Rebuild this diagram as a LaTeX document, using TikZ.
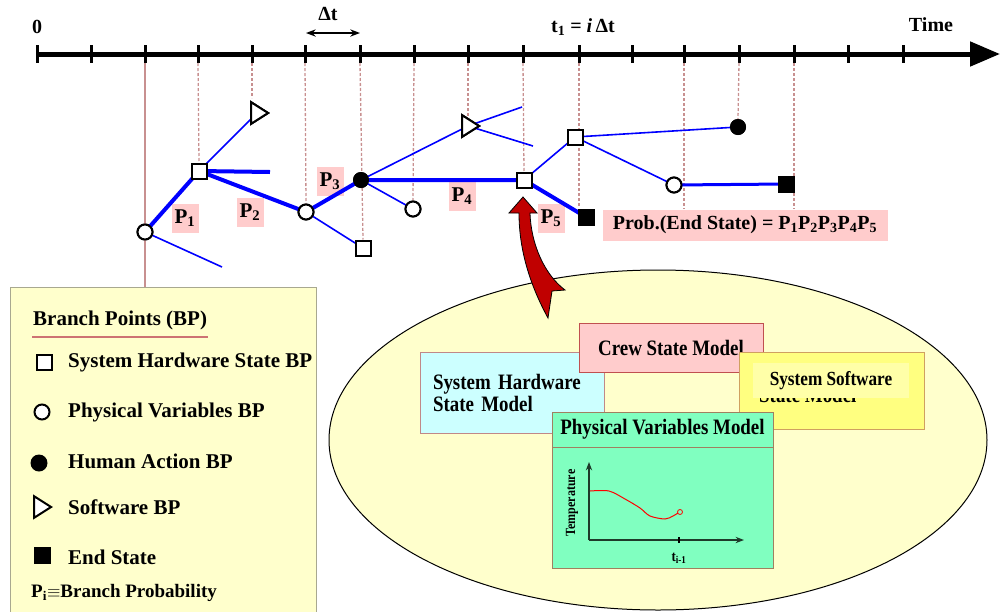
\documentclass[tikz,border=0pt]{standalone}
\usepackage{fontspec}
\setmainfont{Liberation Serif}
\newfontfamily\condserif{Liberation Serif}[FakeStretch=0.86]
\usetikzlibrary{arrows.meta,shapes.geometric}
\definecolor{poolfill}{HTML}{FFFFCC}
\definecolor{pinkfill}{HTML}{FFCCCC}
\definecolor{tickline}{HTML}{C89090}
\definecolor{bpblue}{HTML}{0000FF}
\definecolor{arrowred}{HTML}{C00000}
\definecolor{hwfill}{HTML}{CCFFFF}
\definecolor{hwline}{HTML}{C08888}
\definecolor{crewline}{HTML}{C05050}
\definecolor{swfill}{HTML}{FFFF80}
\definecolor{swlight}{HTML}{FFFFA8}
\definecolor{swline}{HTML}{D0A060}
\definecolor{pvfill}{HTML}{80FFC0}
\definecolor{pvline}{HTML}{A08060}
\definecolor{legline}{HTML}{A8A890}
\definecolor{axisgreen}{HTML}{1E3A2A}
\tikzset{
  txt/.style={font=\bfseries\fontsize{#1}{#1}\selectfont, inner sep=1pt},
  ctxt/.style={font=\condserif\bfseries\fontsize{#1}{#1}\selectfont, inner sep=1pt},
  hwbp/.style={draw, rectangle, fill=white, line width=2pt, minimum size=15pt, inner sep=0pt},
  pvbp/.style={draw, circle, fill=white, line width=2pt, minimum size=15pt, inner sep=0pt},
  habp/.style={circle, fill=black, minimum size=16pt, inner sep=0pt},
  swbp/.style={draw, isosceles triangle, isosceles triangle apex angle=65, fill=white, line width=2pt, minimum height=17pt, inner sep=0pt},
  endst/.style={rectangle, fill=black, minimum size=17pt, inner sep=0pt},
  mainbr/.style={draw=bpblue, line width=4pt},
  sidebr/.style={draw=bpblue, line width=1.6pt},
  tickdash/.style={draw=tickline, line width=1.3pt, dash pattern=on 3pt off 2pt},
  plab/.style={txt=21, fill=pinkfill, minimum width=27pt, minimum height=29pt},
  modbox/.style={draw, line width=1pt, inner sep=0pt}
}
\begin{document}
\begin{tikzpicture}[x=1pt,y=-1pt,>=Stealth]
\useasboundingbox (0,0) rectangle (1002,611);
\node (pool) [draw, ellipse, fill=poolfill, line width=1pt, minimum width=658pt, minimum height=340pt] at (658,440) {};
\node (legend) [draw=legline, fill=poolfill, line width=1pt, minimum width=306pt, minimum height=330pt, inner sep=0pt] at (163,452) {};
\draw [line width=5pt, -{Triangle[length=30pt,width=24pt]}] (37,54) -- (1000,54);
\foreach \x [count=\i from 0] in {37,91,145,198,252,305,360,414,468,523,579,632,684,739,794,848,903} {
  \draw [line width=3pt] (\x,45) -- (\x,63);
  \coordinate (t\i) at (\x,63);
}
\node [txt=20] (zero) at (37,27) {0};
\node [txt=20] (dtlab) at (328,14) {Δt};
\coordinate (dta) at (306,33);
\coordinate (dtb) at (360,33);
\draw [<->, line width=1.5pt] (dta) -- (dtb);
\node [txt=20] (tilab) at (583,27) {t\textsubscript{1} = {\itshape i}\,Δt};
\node [txt=20] (timelab) at (931,25) {Time};
\node [hwbp] (B) at (199,171) {};
\node [swbp] (C) at (257,113) {};
\node [pvbp] (A) at (145,232) {};
\node [pvbp] (D) at (306,212) {};
\node [habp] (E) at (361,180) {};
\node [pvbp] (F) at (413,209) {};
\node [hwbp] (G) at (363,248) {};
\node [swbp] (H) at (468,126) {};
\node [hwbp] (I) at (524,180) {};
\node [hwbp] (J) at (575,137) {};
\node [habp] (K) at (738,127) {};
\node [pvbp] (L) at (674,185) {};
\node [endst] (M) at (586,217) {};
\node [endst] (N) at (786,184) {};
\node [plab] (p1) at (185,218) {P\textsubscript{1}};
\node [plab] (p2) at (250,212) {P\textsubscript{2}};
\node [plab] (p3) at (330,181) {P\textsubscript{3}};
\node [plab] (p4) at (462,196) {P\textsubscript{4}};
\node [plab] (p5) at (551,218) {P\textsubscript{5}};
\node [txt=20, fill=pinkfill, minimum width=285pt, minimum height=31pt] (prob) at (745,225) {Prob.(End State) = P\textsubscript{1}P\textsubscript{2}P\textsubscript{3}P\textsubscript{4}P\textsubscript{5}};
\coordinate (c4) at (252,98);
\coordinate (c10) at (579,207);
\coordinate (a1) at (222,267);
\coordinate (b1) at (270,172);
\coordinate (h1) at (522,107);
\coordinate (h2) at (533,146);
\draw [draw=tickline, line width=1.3pt] (t2) -- (t2 |- legend.north);
\draw [tickdash] (t3) -- (B.north);
\draw [tickdash] (t4) -- (c4);
\draw [tickdash] (t5) -- (D.north);
\draw [tickdash] (t6) -- (G.north);
\draw [tickdash] (t7) -- (F.north);
\draw [tickdash] (t8) -- (H);
\draw [tickdash] (t9) -- (I.north);
\draw [tickdash] (t10) -- (c10);
\draw [tickdash] (t12) -- (t12 |- prob.north);
\draw [tickdash] (t13) -- (K.north);
\draw [tickdash] (t14) -- (t14 |- prob.north);
\draw [mainbr] (A.center) -- (B.center) -- (D.center) -- (E.center) -- (I.center) -- (M.center);
\draw [mainbr] (B.center) -- (b1);
\draw [draw=bpblue, line width=3pt] (L.center) -- (N.center);
\draw [sidebr] (A.center) -- (a1);
\draw [sidebr] (B.center) -- (C.center);
\draw [sidebr] (D.center) -- (G.center);
\draw [sidebr] (E.center) -- (H.center);
\draw [sidebr] (E.center) -- (F.center);
\draw [sidebr] (H.center) -- (h1);
\draw [sidebr] (H.center) -- (h2);
\draw [sidebr] (I.center) -- (J.center) -- (K.center);
\draw [sidebr] (J.center) -- (L.center);
\foreach \n/\s in {A/pvbp,B/hwbp,C/swbp,D/pvbp,E/habp,F/pvbp,G/hwbp,H/swbp,I/hwbp,J/hwbp,K/habp,L/pvbp,M/endst,N/endst} {
  \node [\s] at (\n) {};
}
\draw [fill=arrowred, line width=0.8pt] (523,197) -- (537,213) -- (530,213) .. controls (531,245) and (545,275) .. (565,290) -- (552,291) -- (548,318) .. controls (530,285) and (519,250) .. (519,213) -- (509,213) -- cycle;
\node [txt=21, anchor=west] (legtitle) at (32,320) {Branch Points (BP)};
\draw [draw=crewline!80, line width=2pt] (32,337) -- (208,337);
\node [hwbp] (lhw) at (44,362) {};
\node [txt=21, anchor=west] (lhwtxt) at (67,362) {System Hardware State BP};
\node [pvbp] (lpv) at (42,412) {};
\node [txt=21, anchor=west] (lpvtxt) at (67,412) {Physical Variables BP};
\node [habp, minimum size=17pt] (lha) at (39,463) {};
\node [txt=21, anchor=west] (lhatxt) at (67,461) {Human Action BP};
\node [swbp] (lsw) at (40,507) {};
\node [txt=21, anchor=west] (lswtxt) at (67,507) {Software BP};
\node [endst] (lend) at (42,555) {};
\node [txt=21, anchor=west] (lendtxt) at (67,557) {End State};
\node [txt=19, anchor=west] (lpi) at (30,593) {P\textsubscript{i}$\equiv$Branch Probability};
\node [modbox, draw=hwline, fill=hwfill, minimum width=184pt, minimum height=81pt, text width=158pt, inner xsep=13pt, align=left, ctxt=22] (hwmod) at (512,392.5) {System Hardware\\State Model};
\node [modbox, draw=crewline, fill=pinkfill, minimum width=184pt, minimum height=49pt, ctxt=22] (crewmod) at (671,347.5) {Crew State Model};
\node [modbox, draw=swline, fill=swfill, minimum width=185pt, minimum height=77pt] (swmod) at (831.5,390.5) {};
\node [ctxt=22, anchor=west] (swhidden) at (758,395) {State Model};
\node [fill=swlight, minimum width=156pt, minimum height=35pt, ctxt=20] (swlab) at (831,380.5) {System Software};
\node [modbox, draw=pvline, fill=pvfill, minimum width=221pt, minimum height=35pt, ctxt=22] (pvhead) at (662.5,429.5) {Physical Variables Model};
\node [modbox, draw=pvline, fill=pvfill, minimum width=221pt, minimum height=121pt] (pvbody) at (662.5,507.5) {};
\coordinate (org) at (589,540);
\coordinate (ytop) at (589,462);
\coordinate (xend) at (744,540);
\draw [draw=axisgreen, line width=1.2pt, ->] (org) -- (ytop);
\draw [draw=axisgreen, line width=1.2pt, ->] (org) -- (xend);
\draw [line width=1.5pt] (679,537) -- (679,543);
\node [ctxt=15] (tim1) at (679,558) {t\textsubscript{i-1}};
\node [ctxt=14, rotate=90] (temp) at (572,503) {Temperature};
\draw [red, line width=1pt] plot [smooth] coordinates {(590,491) (609,491) (625,499) (640,508) (650,516) (665,519) (673,516) (678,513)};
\draw [red, line width=0.8pt] (680,512) circle [radius=2.5pt];
\end{tikzpicture}
\end{document}
